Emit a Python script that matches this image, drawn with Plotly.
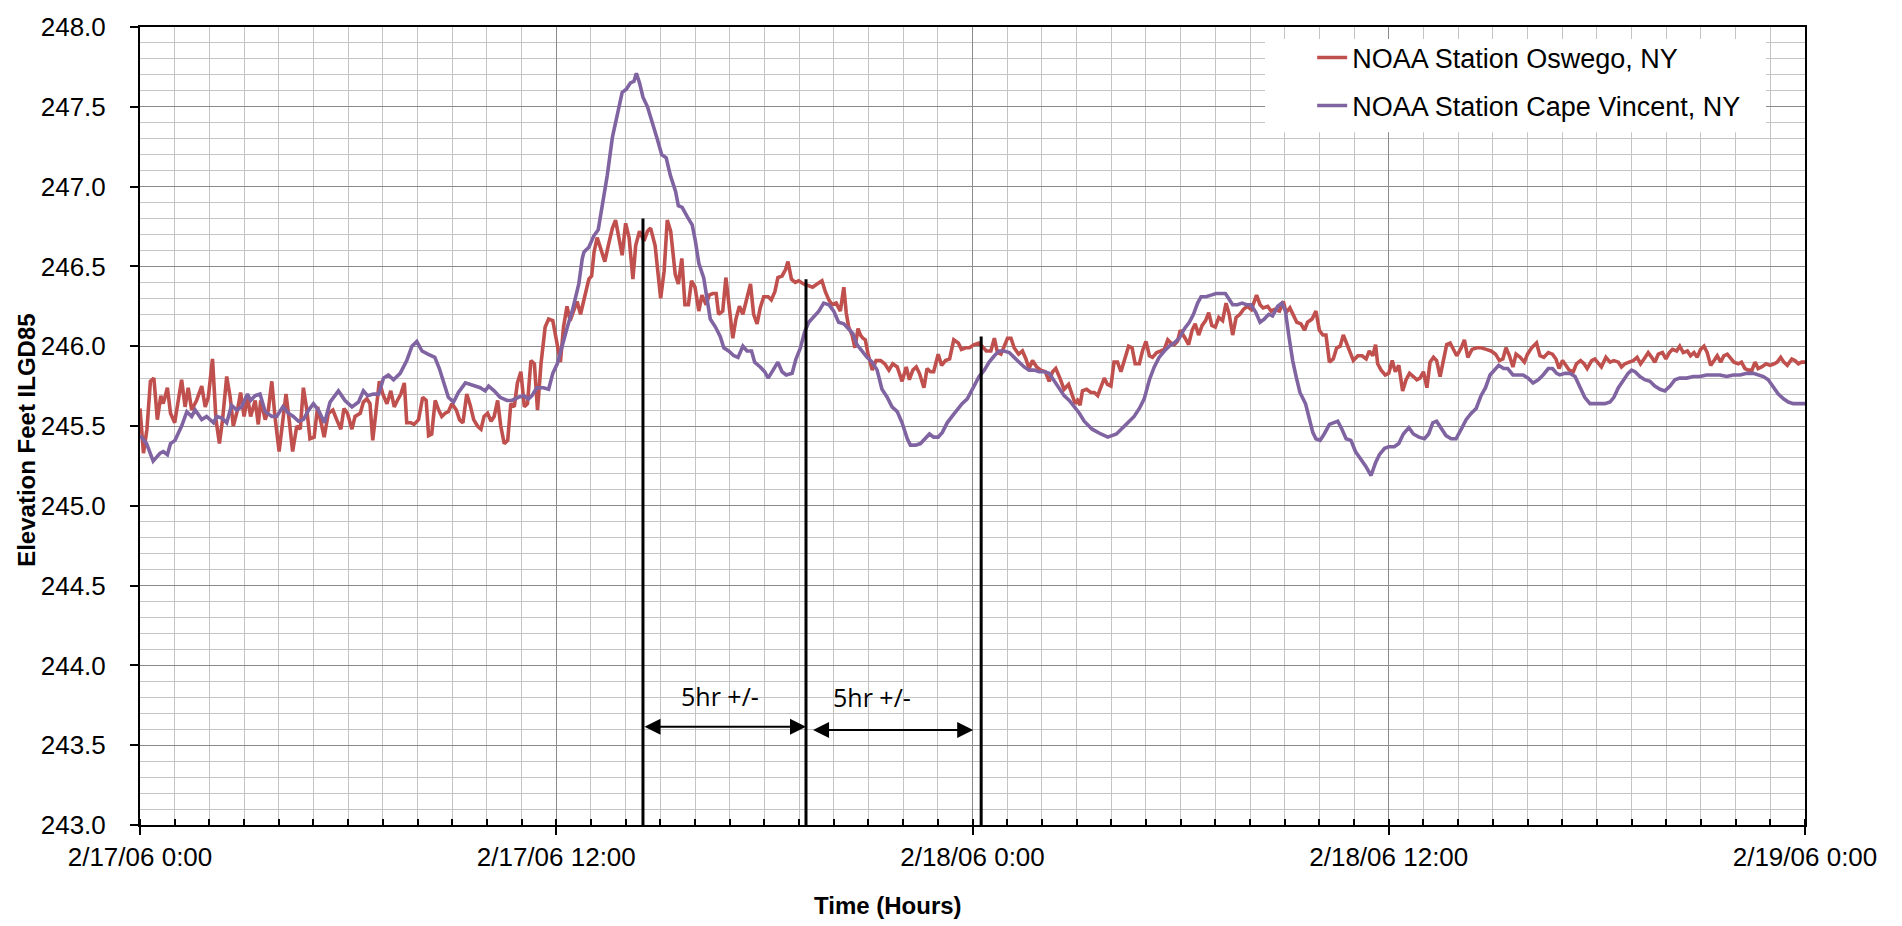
import pandas as pd
import plotly.graph_objects as go

# ---- Water level records, 2/17/06 0:00 to 2/19/06 0:00 (hours since start, feet IGLD85) ----
oswego_hours = [
    0.0, 0.1, 0.2, 0.3, 0.4, 0.5, 0.6, 0.67, 0.79, 0.88, 1.0, 1.2, 1.3, 1.39, 1.49, 1.63, 1.78, 1.88, 1.97,
    2.09, 2.19, 2.29, 2.38, 2.5, 2.6, 2.69, 2.81, 2.9, 3.0, 3.1, 3.19, 3.32, 3.41, 3.48, 3.61, 3.7, 3.8, 3.89,
    4.01, 4.12, 4.21, 4.31, 4.4, 4.52, 4.62, 4.71, 4.81, 4.9, 5.02, 5.12, 5.24, 5.31, 5.43, 5.56, 5.67, 5.79,
    5.88, 5.98, 6.11, 6.2, 6.35, 6.44, 6.54, 6.63, 6.71, 6.81, 6.9, 7.0, 7.12, 7.23, 7.33, 7.42, 7.52, 7.62,
    7.69, 7.81, 7.9, 8.03, 8.15, 8.25, 8.32, 8.41, 8.51, 8.61, 8.7, 8.8, 8.89, 8.99, 9.12, 9.21, 9.31, 9.42,
    9.52, 9.62, 9.73, 9.83, 9.92, 10.02, 10.12, 10.21, 10.31, 10.4, 10.5, 10.6, 10.69, 10.79, 10.88, 10.98,
    11.08, 11.17, 11.27, 11.37, 11.46, 11.56, 11.68, 11.78, 11.9, 12.02, 12.12, 12.21, 12.31, 12.4, 12.5,
    12.6, 12.7, 12.85, 12.94, 13.02, 13.09, 13.18, 13.28, 13.4, 13.5, 13.62, 13.71, 13.81, 13.9, 14.0, 14.1,
    14.21, 14.29, 14.4, 14.53, 14.63, 14.72, 14.85, 14.94, 15.01, 15.11, 15.2, 15.3, 15.37, 15.43, 15.52,
    15.62, 15.71, 15.81, 15.9, 16.0, 16.11, 16.2, 16.32, 16.41, 16.51, 16.61, 16.68, 16.8, 16.89, 16.99,
    17.09, 17.18, 17.28, 17.38, 17.47, 17.6, 17.69, 17.79, 17.88, 17.98, 18.11, 18.2, 18.3, 18.39, 18.51,
    18.61, 18.68, 18.78, 18.89, 18.99, 19.13, 19.26, 19.39, 19.52, 19.66, 19.76, 19.86, 19.95, 20.07, 20.19,
    20.29, 20.36, 20.43, 20.53, 20.61, 20.7, 20.77, 20.84, 20.91, 20.99, 21.11, 21.22, 21.35, 21.47, 21.59,
    21.7, 21.83, 21.97, 22.09, 22.18, 22.28, 22.38, 22.47, 22.6, 22.69, 22.79, 22.88, 23.01, 23.11, 23.22,
    23.34, 23.46, 23.59, 23.68, 23.8, 23.91, 24.05, 24.19, 24.3, 24.4, 24.53, 24.63, 24.72, 24.82, 25.01,
    25.11, 25.2, 25.33, 25.44, 25.54, 25.63, 25.73, 25.85, 25.97, 26.1, 26.21, 26.31, 26.4, 26.52, 26.64,
    26.77, 26.87, 26.96, 27.03, 27.1, 27.17, 27.29, 27.41, 27.51, 27.61, 27.7, 27.8, 27.89, 27.99, 28.08,
    28.18, 28.28, 28.38, 28.5, 28.6, 28.69, 28.81, 28.9, 29.0, 29.1, 29.19, 29.31, 29.43, 29.53, 29.63,
    29.72, 29.82, 29.91, 29.99, 30.06, 30.13, 30.23, 30.33, 30.42, 30.52, 30.62, 30.72, 30.81, 30.9, 31.0,
    31.1, 31.21, 31.31, 31.4, 31.5, 31.6, 31.71, 31.81, 31.92, 32.04, 32.19, 32.29, 32.38, 32.51, 32.61,
    32.7, 32.85, 32.96, 33.04, 33.15, 33.25, 33.35, 33.47, 33.57, 33.66, 33.79, 33.9, 34.0, 34.1, 34.19,
    34.29, 34.4, 34.5, 34.6, 34.69, 34.79, 34.88, 34.98, 35.11, 35.23, 35.35, 35.44, 35.54, 35.62, 35.68,
    35.78, 35.9, 36.0, 36.1, 36.19, 36.29, 36.4, 36.5, 36.6, 36.71, 36.81, 36.9, 37.0, 37.1, 37.19, 37.29,
    37.38, 37.48, 37.58, 37.67, 37.77, 37.87, 37.96, 38.09, 38.18, 38.28, 38.4, 38.54, 38.66, 38.81, 38.95,
    39.08, 39.19, 39.29, 39.38, 39.48, 39.58, 39.67, 39.79, 39.91, 40.0, 40.12, 40.26, 40.36, 40.47, 40.6,
    40.72, 40.82, 40.91, 41.01, 41.11, 41.2, 41.32, 41.41, 41.53, 41.63, 41.72, 41.85, 41.94, 42.04, 42.13,
    42.26, 42.38, 42.49, 42.62, 42.71, 42.81, 42.93, 43.05, 43.16, 43.26, 43.36, 43.48, 43.58, 43.67, 43.77,
    43.89, 43.99, 44.09, 44.18, 44.3, 44.39, 44.49, 44.61, 44.7, 44.8, 44.89, 44.99, 45.09, 45.18, 45.28,
    45.38, 45.47, 45.57, 45.66, 45.76, 45.86, 45.95, 46.08, 46.17, 46.27, 46.37, 46.47, 46.56, 46.65, 46.75,
    46.88, 46.99, 47.11, 47.2, 47.3, 47.39, 47.49, 47.62, 47.71, 47.81, 47.9, 48.0,
]
oswego_ft = [
    245.61, 245.33, 245.48, 245.78, 245.80, 245.54, 245.69, 245.64, 245.74, 245.58, 245.52, 245.79, 245.62,
    245.74, 245.60, 245.66, 245.75, 245.62, 245.68, 245.92, 245.54, 245.39, 245.54, 245.81, 245.68, 245.50,
    245.60, 245.71, 245.56, 245.68, 245.56, 245.66, 245.51, 245.66, 245.54, 245.60, 245.78, 245.56, 245.34,
    245.56, 245.70, 245.52, 245.34, 245.50, 245.48, 245.74, 245.60, 245.42, 245.43, 245.62, 245.50, 245.43,
    245.58, 245.60, 245.54, 245.48, 245.61, 245.58, 245.48, 245.56, 245.58, 245.65, 245.67, 245.64, 245.41,
    245.62, 245.78, 245.70, 245.64, 245.72, 245.62, 245.66, 245.70, 245.77, 245.52, 245.52, 245.51, 245.54,
    245.68, 245.66, 245.44, 245.45, 245.66, 245.60, 245.56, 245.58, 245.59, 245.64, 245.60, 245.54, 245.52,
    245.70, 245.63, 245.54, 245.50, 245.48, 245.56, 245.58, 245.53, 245.56, 245.66, 245.50, 245.39, 245.41,
    245.64, 245.62, 245.77, 245.84, 245.62, 245.64, 245.91, 245.89, 245.60, 245.89, 246.12, 246.17, 246.16,
    246.02, 245.90, 246.12, 246.25, 246.16, 246.22, 246.28, 246.20, 246.34, 246.42, 246.44, 246.59, 246.68,
    246.61, 246.53, 246.63, 246.74, 246.79, 246.68, 246.57, 246.77, 246.68, 246.42, 246.63, 246.72, 246.66,
    246.72, 246.74, 246.63, 246.45, 246.30, 246.47, 246.79, 246.72, 246.59, 246.45, 246.39, 246.55, 246.26,
    246.26, 246.41, 246.37, 246.22, 246.32, 246.26, 246.32, 246.33, 246.33, 246.20, 246.22, 246.43, 246.26,
    246.05, 246.17, 246.25, 246.20, 246.28, 246.39, 246.20, 246.14, 246.24, 246.31, 246.31, 246.29, 246.34,
    246.43, 246.44, 246.48, 246.53, 246.42, 246.40, 246.41, 246.39, 246.38, 246.37, 246.39, 246.41, 246.34,
    246.29, 246.26, 246.27, 246.22, 246.37, 246.21, 246.12, 246.07, 245.99, 246.11, 246.07, 246.05, 246.04,
    245.95, 245.85, 245.91, 245.91, 245.89, 245.85, 245.89, 245.87, 245.78, 245.87, 245.79, 245.85, 245.87,
    245.83, 245.74, 245.86, 245.84, 245.84, 245.95, 245.88, 245.91, 245.92, 246.04, 246.02, 245.98, 245.99,
    245.99, 246.01, 246.02, 245.99, 245.97, 245.97, 246.05, 245.96, 245.95, 246.05, 246.05, 245.99, 245.95,
    245.97, 245.92, 245.86, 245.91, 245.87, 245.85, 245.84, 245.78, 245.84, 245.86, 245.80, 245.73, 245.76,
    245.69, 245.64, 245.66, 245.63, 245.72, 245.73, 245.71, 245.71, 245.69, 245.74, 245.80, 245.76, 245.75,
    245.90, 245.90, 245.84, 245.91, 246.00, 245.99, 245.89, 245.89, 245.97, 246.03, 245.94, 245.93, 245.96,
    245.97, 245.98, 246.04, 246.02, 246.01, 246.03, 246.10, 246.07, 246.05, 246.01, 246.10, 246.14, 246.07,
    246.13, 246.16, 246.21, 246.13, 246.12, 246.18, 246.16, 246.27, 246.20, 246.07, 246.18, 246.20, 246.23,
    246.25, 246.23, 246.32, 246.26, 246.24, 246.25, 246.22, 246.23, 246.22, 246.28, 246.21, 246.24, 246.20,
    246.15, 246.14, 246.10, 246.15, 246.17, 246.22, 246.10, 246.07, 246.07, 245.90, 245.92, 245.99, 246.00,
    246.07, 246.01, 245.96, 245.91, 245.94, 245.94, 245.92, 245.97, 245.94, 246.01, 245.89, 245.85, 245.82,
    245.83, 245.91, 245.84, 245.88, 245.72, 245.79, 245.83, 245.81, 245.79, 245.80, 245.84, 245.74, 245.90,
    245.93, 245.91, 245.81, 245.91, 246.01, 246.02, 245.98, 245.94, 245.99, 246.04, 245.93, 245.98, 245.99,
    245.99, 245.98, 245.97, 245.95, 245.91, 245.92, 245.99, 245.94, 245.87, 245.95, 245.93, 245.90, 245.95,
    245.99, 246.02, 245.94, 245.93, 245.96, 245.95, 245.92, 245.86, 245.91, 245.88, 245.85, 245.84, 245.89,
    245.91, 245.89, 245.86, 245.91, 245.92, 245.89, 245.87, 245.93, 245.90, 245.91, 245.90, 245.87, 245.89,
    245.90, 245.91, 245.93, 245.89, 245.92, 245.96, 245.93, 245.90, 245.95, 245.96, 245.92, 245.96, 245.98,
    245.97, 246.00, 245.96, 245.97, 245.94, 245.96, 245.93, 245.98, 246.00, 245.96, 245.88, 245.91, 245.94,
    245.90, 245.94, 245.95, 245.92, 245.90, 245.89, 245.90, 245.86, 245.85, 245.85, 245.90, 245.86, 245.87,
    245.89, 245.88, 245.89, 245.90, 245.93, 245.90, 245.88, 245.92, 245.91, 245.89, 245.90, 245.90,
]

cape_vincent_hours = [
    0.0, 0.19, 0.38, 0.58, 0.67, 0.79, 0.88, 1.01, 1.2, 1.35, 1.49, 1.59, 1.78, 1.92, 2.12, 2.21, 2.36, 2.5,
    2.64, 2.79, 2.93, 3.1, 3.19, 3.32, 3.46, 3.61, 3.8, 3.94, 4.12, 4.28, 4.42, 4.57, 4.71, 4.86, 5.0, 5.14,
    5.32, 5.48, 5.72, 5.91, 6.11, 6.3, 6.44, 6.56, 6.73, 6.88, 7.02, 7.16, 7.31, 7.5, 7.69, 7.84, 7.98, 8.13,
    8.3, 8.5, 8.63, 8.75, 8.89, 9.04, 9.18, 9.38, 9.62, 9.81, 9.95, 10.05, 10.21, 10.38, 10.58, 10.72, 10.91,
    11.06, 11.2, 11.3, 11.44, 11.63, 11.78, 11.9, 12.03, 12.17, 12.32, 12.46, 12.65, 12.75, 12.8, 12.94,
    13.08, 13.21, 13.33, 13.47, 13.62, 13.77, 13.9, 14.02, 14.14, 14.24, 14.31, 14.4, 14.5, 14.63, 14.77,
    14.91, 15.04, 15.17, 15.29, 15.44, 15.52, 15.63, 15.78, 15.92, 16.01, 16.11, 16.25, 16.35, 16.44, 16.59,
    16.73, 16.83, 16.97, 17.12, 17.24, 17.38, 17.5, 17.63, 17.72, 17.88, 18.01, 18.11, 18.24, 18.39, 18.51,
    18.63, 18.8, 18.91, 19.04, 19.16, 19.28, 19.42, 19.57, 19.71, 19.86, 20.0, 20.14, 20.29, 20.43, 20.55,
    20.67, 20.82, 20.96, 21.11, 21.25, 21.39, 21.54, 21.68, 21.83, 21.97, 22.12, 22.21, 22.36, 22.5, 22.64,
    22.76, 22.88, 23.01, 23.13, 23.27, 23.41, 23.56, 23.7, 23.85, 24.05, 24.19, 24.34, 24.48, 24.63, 24.77,
    24.91, 25.06, 25.2, 25.35, 25.49, 25.63, 25.78, 25.92, 26.07, 26.21, 26.36, 26.5, 26.64, 26.79, 26.93,
    27.08, 27.22, 27.45, 27.7, 27.9, 28.15, 28.35, 28.52, 28.66, 28.81, 28.95, 29.1, 29.24, 29.38, 29.53,
    29.67, 29.81, 29.96, 30.11, 30.25, 30.37, 30.49, 30.59, 30.73, 30.88, 31.02, 31.16, 31.29, 31.38, 31.5,
    31.64, 31.77, 31.9, 32.03, 32.17, 32.29, 32.41, 32.54, 32.65, 32.8, 32.92, 33.02, 33.13, 33.23, 33.33,
    33.44, 33.6, 33.71, 33.81, 33.9, 34.02, 34.14, 34.29, 34.4, 34.53, 34.65, 34.77, 34.91, 35.04, 35.17,
    35.33, 35.49, 35.62, 35.73, 35.88, 36.0, 36.16, 36.29, 36.42, 36.58, 36.71, 36.87, 37.03, 37.15, 37.27,
    37.38, 37.51, 37.65, 37.8, 37.94, 38.09, 38.23, 38.38, 38.52, 38.66, 38.79, 38.92, 39.05, 39.17, 39.31,
    39.43, 39.58, 39.72, 39.87, 40.02, 40.16, 40.31, 40.45, 40.6, 40.72, 40.84, 40.93, 41.08, 41.22, 41.37,
    41.51, 41.65, 41.8, 41.94, 42.09, 42.23, 42.38, 42.49, 42.62, 42.76, 42.9, 43.0, 43.1, 43.24, 43.38,
    43.53, 43.67, 43.82, 43.96, 44.11, 44.25, 44.39, 44.59, 44.78, 44.97, 45.16, 45.36, 45.55, 45.74, 45.93,
    46.13, 46.32, 46.51, 46.65, 46.8, 46.94, 47.09, 47.23, 47.38, 47.52, 47.66, 47.81, 48.0,
]
cape_vincent_ft = [
    245.44, 245.39, 245.28, 245.33, 245.34, 245.32, 245.39, 245.41, 245.50, 245.59, 245.56, 245.60, 245.54,
    245.56, 245.52, 245.56, 245.55, 245.52, 245.63, 245.60, 245.62, 245.70, 245.66, 245.69, 245.70, 245.59,
    245.56, 245.56, 245.62, 245.58, 245.56, 245.53, 245.54, 245.60, 245.64, 245.60, 245.52, 245.65, 245.72,
    245.66, 245.62, 245.65, 245.72, 245.69, 245.70, 245.70, 245.80, 245.82, 245.79, 245.83, 245.91, 246.00,
    246.03, 245.97, 245.95, 245.93, 245.86, 245.77, 245.68, 245.65, 245.71, 245.77, 245.75, 245.74, 245.72,
    245.75, 245.72, 245.68, 245.66, 245.66, 245.68, 245.69, 245.67, 245.69, 245.74, 245.74, 245.73, 245.83,
    245.89, 246.01, 246.12, 246.22, 246.39, 246.55, 246.59, 246.62, 246.69, 246.73, 246.88, 247.07, 247.31,
    247.46, 247.59, 247.61, 247.65, 247.66, 247.71, 247.65, 247.56, 247.50, 247.39, 247.30, 247.20, 247.18,
    247.07, 246.97, 246.88, 246.87, 246.81, 246.76, 246.66, 246.52, 246.43, 246.28, 246.17, 246.12, 246.06,
    245.99, 245.97, 245.94, 245.93, 246.00, 245.97, 245.97, 245.90, 245.87, 245.84, 245.80, 245.85, 245.90,
    245.84, 245.82, 245.83, 245.92, 245.99, 246.09, 246.15, 246.18, 246.22, 246.27, 246.26, 246.22, 246.15,
    246.14, 246.11, 246.08, 246.01, 245.97, 245.93, 245.90, 245.85, 245.73, 245.68, 245.62, 245.59, 245.52,
    245.42, 245.38, 245.38, 245.39, 245.42, 245.45, 245.43, 245.43, 245.46, 245.52, 245.56, 245.60, 245.64,
    245.67, 245.75, 245.81, 245.85, 245.90, 245.94, 245.97, 245.97, 245.96, 245.93, 245.90, 245.87, 245.85,
    245.85, 245.84, 245.84, 245.83, 245.78, 245.73, 245.69, 245.66, 245.62, 245.58, 245.53, 245.48, 245.45,
    245.43, 245.45, 245.49, 245.53, 245.56, 245.61, 245.67, 245.79, 245.87, 245.93, 245.97, 246.00, 246.02,
    246.05, 246.11, 246.15, 246.20, 246.27, 246.31, 246.31, 246.32, 246.33, 246.33, 246.33, 246.30, 246.26,
    246.26, 246.27, 246.26, 246.26, 246.21, 246.15, 246.17, 246.20, 246.19, 246.25, 246.27, 246.22, 246.05,
    245.91, 245.81, 245.71, 245.64, 245.54, 245.46, 245.42, 245.41, 245.45, 245.51, 245.52, 245.53, 245.48,
    245.42, 245.41, 245.34, 245.30, 245.25, 245.19, 245.27, 245.32, 245.36, 245.37, 245.37, 245.39, 245.45,
    245.49, 245.45, 245.43, 245.42, 245.45, 245.52, 245.53, 245.49, 245.44, 245.42, 245.42, 245.48, 245.54,
    245.58, 245.61, 245.69, 245.74, 245.82, 245.85, 245.88, 245.86, 245.86, 245.82, 245.82, 245.82, 245.80,
    245.77, 245.79, 245.82, 245.86, 245.86, 245.83, 245.82, 245.83, 245.83, 245.81, 245.75, 245.68, 245.64,
    245.64, 245.64, 245.64, 245.65, 245.68, 245.74, 245.79, 245.83, 245.85, 245.84, 245.81, 245.79, 245.78,
    245.75, 245.73, 245.72, 245.75, 245.79, 245.80, 245.80, 245.81, 245.81, 245.82, 245.82, 245.82, 245.81,
    245.82, 245.82, 245.83, 245.83, 245.82, 245.81, 245.79, 245.74, 245.70, 245.67, 245.65, 245.64, 245.64,
    245.64,
]

# Lag markers: vertical reference lines (hour, top elevation) and the two "5hr +/-" spans
lag_line_hours = [14.5, 19.2, 24.25]
lag_line_tops = [246.80, 246.42, 246.06]
lag_line_base = 243.0
span_starts = [14.5, 19.36]
span_ends = [19.2, 24.02]
span_levels = [243.616, 243.595]
span_label_hours = [16.72, 21.09]
span_label_levels = [243.81, 243.80]
span_label_text = ["5hr +/-", "5hr +/-"]

start = pd.Timestamp("2006-02-17 00:00")


def at(hours):
    return start + pd.to_timedelta(hours, unit="h")


RED = "#C0504D"
PURPLE = "#8064A2"
FONT = "Liberation Sans, Arial, sans-serif"

fig = go.Figure()
fig.add_trace(go.Scatter(
    x=at(pd.Series(oswego_hours)), y=oswego_ft, mode="lines",
    name="NOAA Station Oswego, NY", legendgroup="a",
    line=dict(color=RED, width=3.6),
))
fig.add_trace(go.Scatter(
    x=at(pd.Series(cape_vincent_hours)), y=cape_vincent_ft, mode="lines",
    name="NOAA Station Cape Vincent, NY", legendgroup="b",
    line=dict(color=PURPLE, width=3.6),
))

# vertical lag lines
for h, top in zip(lag_line_hours, lag_line_tops):
    fig.add_shape(type="line", xref="x", yref="y",
                  x0=at(h), x1=at(h), y0=lag_line_base, y1=top,
                  line=dict(color="black", width=3), layer="above")

# double-headed span arrows with labels
for a, b, lvl in zip(span_starts, span_ends, span_levels):
    fig.add_annotation(x=at(b), y=lvl, ax=at(a), ay=lvl, xref="x", yref="y",
                       axref="x", ayref="y", text="", showarrow=True,
                       arrowhead=2, arrowside="end+start", arrowsize=1.6,
                       arrowwidth=2, arrowcolor="black")
for h, lvl, txt in zip(span_label_hours, span_label_levels, span_label_text):
    fig.add_annotation(x=at(h), y=lvl, xref="x", yref="y", text=txt, showarrow=False,
                       font=dict(family="Open Sans, sans-serif", size=25, color="black"))

# axis titles
fig.add_annotation(x=0.449, y=-0.1007, xref="paper", yref="paper", text="<b>Time (Hours)</b>",
                   showarrow=False, yanchor="middle",
                   font=dict(family=FONT, size=24, color="black"))
fig.add_annotation(x=-0.0679, y=0.4826, xref="paper", yref="paper",
                   text="<b>Elevation Feet ILGD85</b>", textangle=-90,
                   showarrow=False, xanchor="center", yanchor="middle",
                   font=dict(family=FONT, size=24, color="black"))

# white panel behind the legend
fig.add_shape(type="rect", xref="paper", yref="paper",
              x0=0.6757, x1=0.9766, y0=0.868, y1=0.985,
              fillcolor="white", line=dict(width=0), layer="above")

fig.update_layout(
    width=1902, height=926,
    margin=dict(l=140, r=97, t=21, b=101),
    paper_bgcolor="white", plot_bgcolor="white",
    font=dict(family=FONT, size=26, color="black"),
    showlegend=True,
    legend=dict(x=0.704, y=0.992, xanchor="left", yanchor="top",
                bgcolor="rgba(255,255,255,0)", borderwidth=0,
                font=dict(family=FONT, size=27, color="black"),
                tracegroupgap=10, traceorder="grouped"),
)

fig.update_xaxes(
    type="date",
    range=[at(0), at(48)],
    tick0=at(0), dtick=12 * 3600000,
    tickformat="%-m/%-d/%y %-H:%M",
    ticks="outside", ticklen=8, tickwidth=2, tickcolor="black",
    showline=True, linecolor="black", linewidth=2, mirror=True,
    showgrid=True, gridcolor="#8A8A8A", gridwidth=1.3,
    zeroline=False,
    tickfont=dict(family=FONT, size=26, color="black"),
    ticklabelstandoff=0,
    minor=dict(dtick=3600000, tick0=at(0), ticks="inside", ticklen=6, tickwidth=1.5,
               tickcolor="black", showgrid=True, gridcolor="#C4C4C4", gridwidth=1.3),
)
fig.update_yaxes(
    range=[243.0, 248.0],
    tick0=243.0, dtick=0.5, tickformat=".1f",
    ticks="outside", ticklen=8, tickwidth=2, tickcolor="black",
    showline=True, linecolor="black", linewidth=2, mirror=True,
    showgrid=True, gridcolor="#8A8A8A", gridwidth=1.3,
    zeroline=False,
    tickfont=dict(family=FONT, size=26, color="black"),
    ticklabelstandoff=19,
    minor=dict(dtick=0.1, tick0=243.0, ticks="", showgrid=True,
               gridcolor="#C4C4C4", gridwidth=1.3),
)

fig.write_html("out.html")
